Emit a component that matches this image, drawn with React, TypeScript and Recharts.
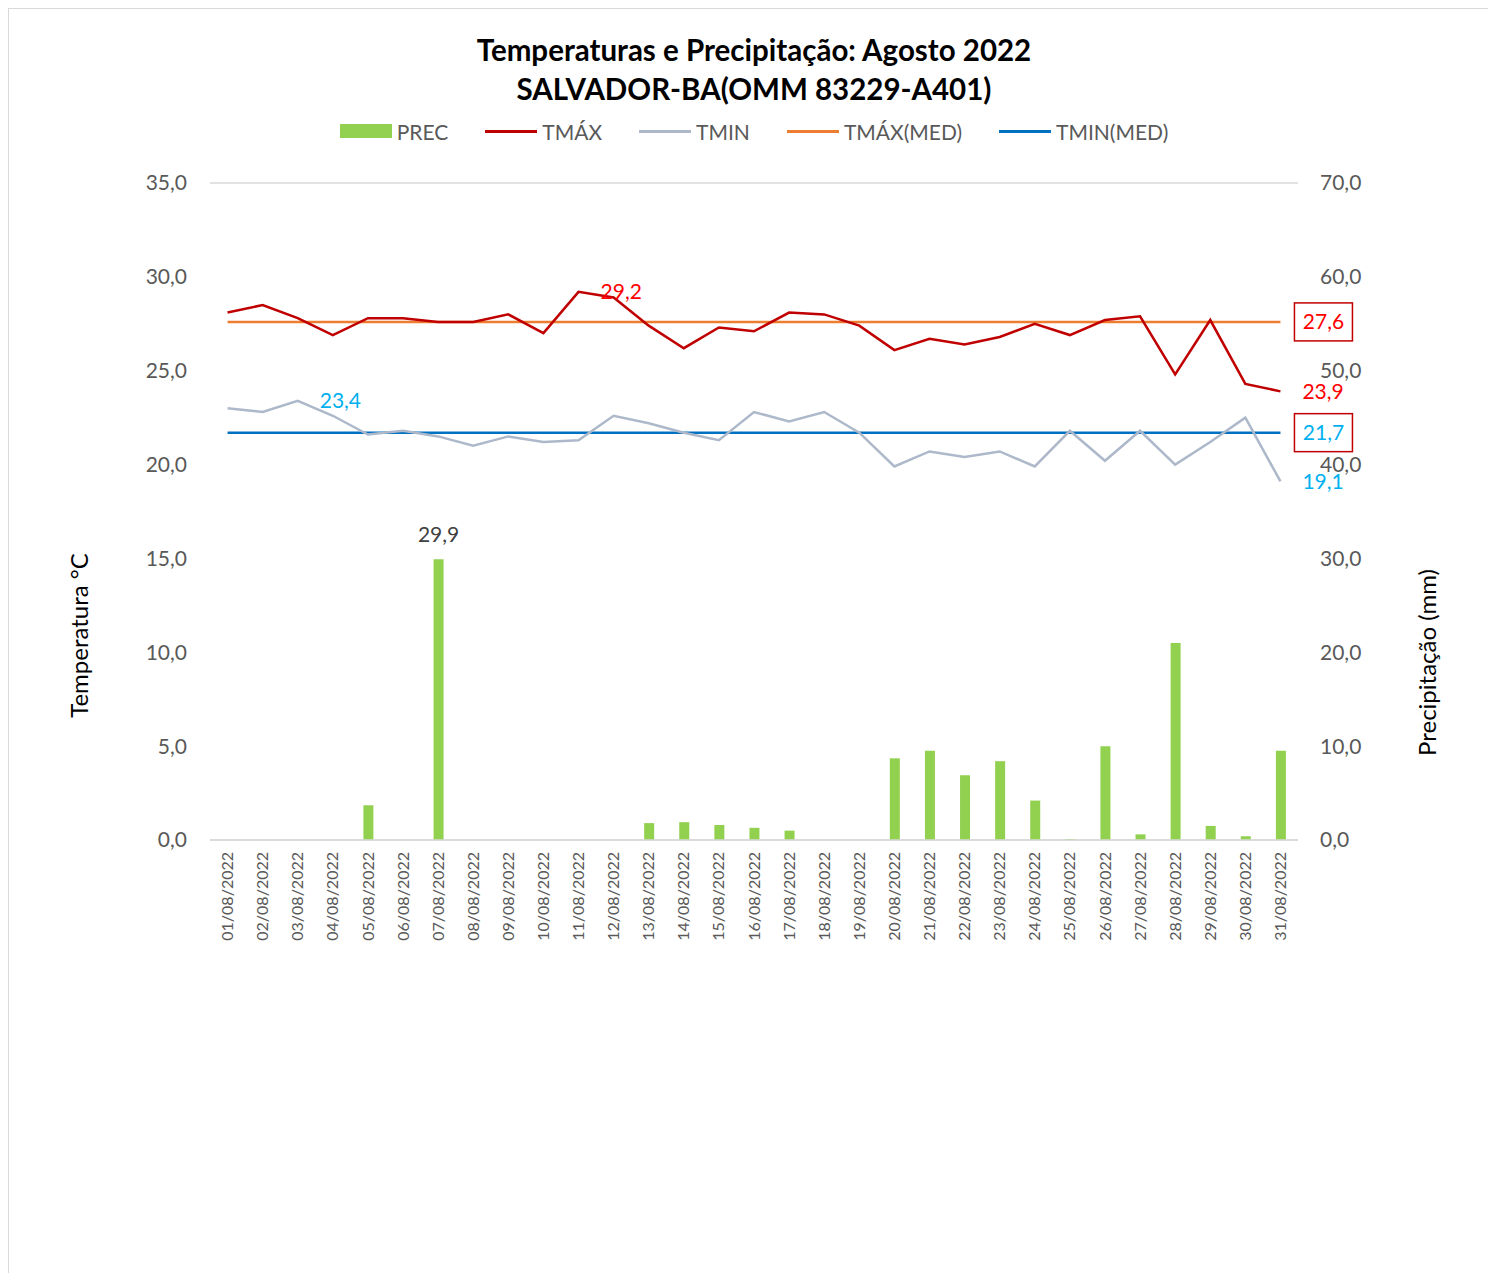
import React from "react";
import {
  ComposedChart,
  Bar,
  Line,
  XAxis,
  YAxis,
  CartesianGrid,
  LabelList,
} from "recharts";

const dates = [
  "01/08/2022", "02/08/2022", "03/08/2022", "04/08/2022", "05/08/2022",
  "06/08/2022", "07/08/2022", "08/08/2022", "09/08/2022", "10/08/2022",
  "11/08/2022", "12/08/2022", "13/08/2022", "14/08/2022", "15/08/2022",
  "16/08/2022", "17/08/2022", "18/08/2022", "19/08/2022", "20/08/2022",
  "21/08/2022", "22/08/2022", "23/08/2022", "24/08/2022", "25/08/2022",
  "26/08/2022", "27/08/2022", "28/08/2022", "29/08/2022", "30/08/2022",
  "31/08/2022",
];

const prec = [
  0, 0, 0, 0, 3.7, 0, 29.9, 0, 0, 0,
  0, 0, 1.8, 1.9, 1.6, 1.3, 1.0, 0, 0, 8.7,
  9.5, 6.9, 8.4, 4.2, 0.1, 10.0, 0.6, 21.0, 1.5, 0.4,
  9.5,
];

const tmax = [
  28.1, 28.5, 27.8, 26.9, 27.8, 27.8, 27.6, 27.6, 28.0, 27.0,
  29.2, 28.9, 27.4, 26.2, 27.3, 27.1, 28.1, 28.0, 27.4, 26.1,
  26.7, 26.4, 26.8, 27.5, 26.9, 27.7, 27.9, 24.8, 27.7, 24.3,
  23.9,
];

const tmin = [
  23.0, 22.8, 23.4, 22.6, 21.6, 21.8, 21.5, 21.0, 21.5, 21.2,
  21.3, 22.6, 22.2, 21.7, 21.3, 22.8, 22.3, 22.8, 21.7, 19.9,
  20.7, 20.4, 20.7, 19.9, 21.8, 20.2, 21.8, 20.0, 21.2, 22.5,
  19.1,
];

const tmaxMed = 27.6;
const tminMed = 21.7;

const tempTicks = [0, 5, 10, 15, 20, 25, 30, 35];
const precTicks = [0, 10, 20, 30, 40, 50, 60, 70];

const data = dates.map((d, i) => ({
  date: d,
  prec: prec[i],
  tmax: tmax[i],
  tmin: tmin[i],
  tmaxMed: tmaxMed,
  tminMed: tminMed,
}));

const FONT = "Lato, 'Open Sans', sans-serif";
const fmt = (v: number) => v.toFixed(1).replace(".", ",");
const precMax = Math.max(...prec);

const DateTick = (props: any) => {
  const { x, y, payload } = props;
  return (
    <text
      x={x}
      y={y}
      transform={`rotate(-90, ${x}, ${y})`}
      textAnchor="end"
      dy="0.35em"
      fill="#595959"
      fontSize={16}
      fontFamily={FONT}
    >
      {payload.value}
    </text>
  );
};

// labels on the right side of selected points
const sideLabel = (indexes: number[], color: string, boxed = false) => (props: any) => {
  const { x, y, value, index } = props;
  if (!indexes.includes(index)) return null;
  if (boxed) {
    return (
      <g>
        <rect x={x + 14} y={y - 19} width={58} height={38} fill="#fff" stroke="#c00000" strokeWidth={1.5} />
        <text x={x + 43} y={y} dy="0.36em" textAnchor="middle" fill={color} fontSize={21} fontFamily={FONT}>
          {fmt(value)}
        </text>
      </g>
    );
  }
  return (
    <text x={x + 22} y={y} dy="0.36em" textAnchor="start" fill={color} fontSize={21} fontFamily={FONT}>
      {fmt(value)}
    </text>
  );
};

const barLabel = (props: any) => {
  const { x, y, width, value } = props;
  if (value !== precMax) return null;
  return (
    <text x={x + width / 2} y={y - 17} textAnchor="middle" fill="#404040" fontSize={21} fontFamily={FONT}>
      {fmt(value)}
    </text>
  );
};

const legendItems = [
  { name: "PREC", color: "#92d050", bar: true },
  { name: "TMÁX", color: "#c00000" },
  { name: "TMIN", color: "#adb9ca" },
  { name: "TMÁX(MED)", color: "#ed7d31" },
  { name: "TMIN(MED)", color: "#0070c0" },
];

export default function App() {
  return (
    <div
      style={{
        position: "relative",
        width: 1479,
        height: 1270,
        border: "1px solid #d9d9d9",
        background: "#fff",
        fontFamily: FONT,
        overflow: "hidden",
      }}
    >
      <div
        style={{
          position: "absolute",
          left: 0,
          top: 21,
          width: 1490,
          textAlign: "center",
          fontWeight: 700,
          fontSize: 29.5,
          lineHeight: "39px",
          color: "#000",
        }}
      >
        <div>Temperaturas e Precipitação: Agosto 2022</div>
        <div>SALVADOR-BA(OMM 83229-A401)</div>
      </div>

      <div
        style={{
          position: "absolute",
          left: 0,
          top: 109,
          width: 1490,
          display: "flex",
          justifyContent: "center",
          alignItems: "center",
          gap: 37,
          fontSize: 21,
          color: "#595959",
          height: 26,
        }}
      >
        {legendItems.map((it) => (
          <div key={it.name} style={{ display: "flex", alignItems: "center", gap: 5 }}>
            <div
              style={{
                width: 52,
                height: it.bar ? 14 : 3,
                background: it.color,
              }}
            />
            <span>{it.name}</span>
          </div>
        ))}
      </div>

      <div style={{ position: "absolute", left: 0, top: 0 }}>
        <ComposedChart
          width={1478}
          height={1000}
          data={data}
          margin={{ top: 174, right: 100, left: 101, bottom: 59 }}
          barCategoryGap={0}
        >
          <CartesianGrid vertical={false} stroke="#d9d9d9" strokeWidth={1.5} />
          <XAxis
            dataKey="date"
            interval={0}
            height={110}
            tick={<DateTick />}
            tickLine={false}
            tickSize={0}
            tickMargin={12}
            axisLine={{ stroke: "#d9d9d9", strokeWidth: 1.5 }}
          />
          <YAxis
            yAxisId="left"
            orientation="left"
            width={100}
            domain={[0, 35]}
            ticks={tempTicks}
            tickFormatter={fmt}
            axisLine={false}
            tickLine={false}
            tickSize={0}
            tickMargin={23}
            tick={{ fill: "#595959", fontSize: 21, fontFamily: FONT }}
            label={(p: any) => {
              const vb = p.viewBox;
              const cx = vb.x - 30;
              const cy = vb.y + vb.height / 2 + 124;
              return (
                <text x={cx} y={cy} transform={`rotate(-90, ${cx}, ${cy})`} textAnchor="middle" dy="0.35em" fill="#000" fontSize={24} fontFamily={FONT}>
                  Temperatura °C
                </text>
              );
            }}
          />
          <YAxis
            yAxisId="right"
            orientation="right"
            width={89}
            domain={[0, 70]}
            ticks={precTicks}
            tickFormatter={fmt}
            axisLine={false}
            tickLine={false}
            tickSize={0}
            tickMargin={22}
            tick={{ fill: "#595959", fontSize: 21, fontFamily: FONT, textAnchor: "start" }}
            label={(p: any) => {
              const vb = p.viewBox;
              const cx = vb.x + 130;
              const cy = vb.y + vb.height / 2 + 151;
              return (
                <text x={cx} y={cy} transform={`rotate(-90, ${cx}, ${cy})`} textAnchor="middle" dy="0.35em" fill="#000" fontSize={24} fontFamily={FONT}>
                  Precipitação (mm)
                </text>
              );
            }}
          />
          <Bar yAxisId="right" dataKey="prec" fill="#92d050" barSize={10} isAnimationActive={false}>
            <LabelList dataKey="prec" content={barLabel} />
          </Bar>
          <Line yAxisId="left" type="linear" dataKey="tmaxMed" stroke="#ed7d31" strokeWidth={2.5} dot={false} isAnimationActive={false}>
            <LabelList dataKey="tmaxMed" content={sideLabel([30], "#ff0000", true)} />
          </Line>
          <Line yAxisId="left" type="linear" dataKey="tminMed" stroke="#0070c0" strokeWidth={2.5} dot={false} isAnimationActive={false}>
            <LabelList dataKey="tminMed" content={sideLabel([30], "#00b0f0", true)} />
          </Line>
          <Line yAxisId="left" type="linear" dataKey="tmax" stroke="#c00000" strokeWidth={2.5} dot={false} isAnimationActive={false}>
            <LabelList dataKey="tmax" content={sideLabel([10, 30], "#ff0000")} />
          </Line>
          <Line yAxisId="left" type="linear" dataKey="tmin" stroke="#adb9ca" strokeWidth={2.5} dot={false} isAnimationActive={false}>
            <LabelList dataKey="tmin" content={sideLabel([2, 30], "#00b0f0")} />
          </Line>
        </ComposedChart>
      </div>
    </div>
  );
}
